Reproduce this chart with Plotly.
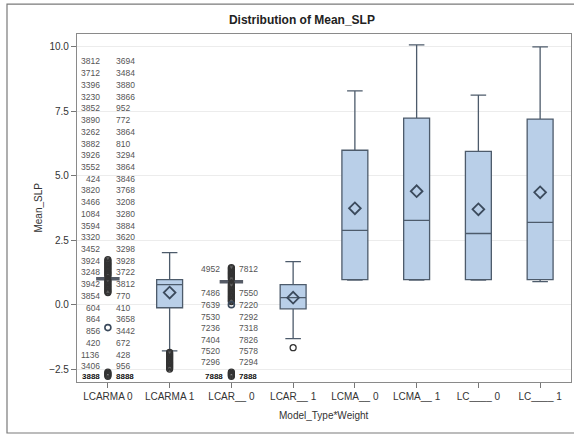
import plotly.graph_objects as go

# ---------------- data ----------------
categories = ["LCARMA 0", "LCARMA 1", "LCAR__ 0", "LCAR__ 1",
              "LCMA__ 0", "LCMA__ 1", "LC____ 0", "LC____ 1"]
q1 =     [1.01, -0.12, 0.89, -0.16, 0.97, 0.97, 0.97, 0.97]
median = [1.01,  0.78, 0.89,  0.27, 2.88, 3.27, 2.76, 3.19]
q3 =     [1.01,  0.97, 0.89,  0.78, 5.99, 7.24, 5.95, 7.20]
lower =  [1.01, -1.79, 0.89, -1.32, 0.95, 0.95, 0.95, 0.89]
upper =  [1.01,  2.02, 0.89,  1.67, 8.29, 10.08, 8.13, 10.00]
means =  [-0.89, 0.47, 0.00,  0.27, 3.74, 4.40, 3.70, 4.36]

outliers_lcarma0 = [1.75, 1.70, 1.65, 1.60, 1.55, 1.50, 1.45, 1.40, 1.35, 1.30,
                    1.25, 1.20, 1.15, 1.10, 0.95, 0.90, 0.85, 0.80, 0.75, 0.70,
                    0.65, 0.60, 0.55, 0.50, 0.47,
                    -2.62, -2.66, -2.70, -2.74, -2.78]
outliers_lcarma1 = [-1.85, -1.90, -1.95, -2.00, -2.05, -2.10, -2.15, -2.20,
                    -2.25, -2.30, -2.35, -2.40, -2.45, -2.50]
outliers_lcar0 = [1.44, 1.40, 1.35, 1.30, 1.25, 1.20, 1.15, 1.10, 1.05, 1.00,
                  0.80, 0.75, 0.70, 0.65, 0.60, 0.55, 0.50, 0.45, 0.40, 0.35,
                  0.30, 0.25, 0.20, 0.15, 0.12,
                  -2.62, -2.66, -2.70, -2.74, -2.78]
outliers_lcar1 = [-1.67]

# outlier ID labels (as stacked in the reference)
lcarma0_left = ["3812", "3712", "3396", "3230", "3852", "3890", "3262", "3882",
                "3926", "3552", "424", "3820", "3466", "1084", "3594", "3320",
                "3452", "3924", "3248", "3942", "3854", "604", "864", "856",
                "420", "1136", "3406"]
lcarma0_right = ["3694", "3484", "3880", "3866", "952", "772", "3864", "810",
                 "3294", "3864", "3846", "3768", "3208", "3280", "3884", "3620",
                 "3298", "3928", "3722", "3812", "770", "410", "3658", "3442",
                 "672", "428", "956"]
lcarma0_label_y = [9.44, 8.98, 8.53, 8.07, 7.62, 7.16, 6.71, 6.25, 5.80, 5.34,
                   4.89, 4.43, 3.98, 3.52, 3.07, 2.61, 2.16, 1.70, 1.25, 0.79,
                   0.34, -0.12, -0.57, -1.03, -1.48, -1.94, -2.39]
lcar0_left = ["4952", "7486", "7639", "7530", "7236", "7404", "7520", "7296"]
lcar0_right = ["7812", "7550", "7220", "7292", "7318", "7826", "7578", "7294"]
lcar0_label_y = [1.40, 0.47, 0.00, -0.47, -0.89, -1.36, -1.79, -2.22]
bottom_labels = {"LCARMA 0": ("3888", "8888"), "LCAR__ 0": ("7888", "7888")}
bottom_label_y = -2.78

# ---------------- figure ----------------
FONT = "Liberation Sans, Arial, sans-serif"
BOX_FILL = "#b9cfe8"
BOX_LINE = "#4d5b6b"

fig = go.Figure()

normal = [i for i in range(len(categories)) if q1[i] != q3[i]]
degen = [i for i in range(len(categories)) if q1[i] == q3[i]]

fig.add_trace(go.Box(
    x=[categories[i] for i in normal],
    q1=[q1[i] for i in normal], median=[median[i] for i in normal],
    q3=[q3[i] for i in normal], lowerfence=[lower[i] for i in normal],
    upperfence=[upper[i] for i in normal],
    boxpoints=False, width=0.42, whiskerwidth=0.6,
    fillcolor=BOX_FILL, line=dict(color=BOX_LINE, width=1.3),
    hoverinfo="skip", showlegend=False))

fig.add_trace(go.Box(
    x=[categories[i] for i in degen],
    q1=[q1[i] for i in degen], median=[median[i] for i in degen],
    q3=[q3[i] for i in degen], lowerfence=[lower[i] for i in degen],
    upperfence=[upper[i] for i in degen],
    boxpoints=False, width=0.38, whiskerwidth=0.6,
    fillcolor=BOX_FILL, line=dict(color="#555b66", width=3.5),
    hoverinfo="skip", showlegend=False))

outlier_sets = [("LCARMA 0", outliers_lcarma0), ("LCARMA 1", outliers_lcarma1),
                ("LCAR__ 0", outliers_lcar0), ("LCAR__ 1", outliers_lcar1)]
for cat, vals in outlier_sets:
    fig.add_trace(go.Scatter(
        x=[cat] * len(vals), y=vals, mode="markers",
        marker=dict(symbol="circle-open", size=6, color="#333333",
                    line=dict(width=1.3)),
        hoverinfo="skip", showlegend=False))

# mean markers: diamonds on real boxes, small open symbol on collapsed ones
fig.add_trace(go.Scatter(
    x=[categories[i] for i in normal], y=[means[i] for i in normal],
    mode="markers",
    marker=dict(symbol="diamond-open", size=9, color="#3b4a5c",
                line=dict(width=1.8)),
    hoverinfo="skip", showlegend=False))
fig.add_trace(go.Scatter(
    x=[categories[i] for i in degen], y=[means[i] for i in degen],
    mode="markers",
    marker=dict(symbol="circle-open", size=6, color="#3b4a5c",
                line=dict(width=1.6)),
    hoverinfo="skip", showlegend=False))

annotations = []
lab_font = dict(family=FONT, size=8.5, color="#555555")


def add_labels(cat, left, right, ys, lshift, rshift):
    for t, y in zip(left, ys):
        annotations.append(dict(x=cat, y=y, text=t, showarrow=False,
                                xanchor="right", yanchor="middle",
                                xshift=lshift, font=lab_font))
    for t, y in zip(right, ys):
        annotations.append(dict(x=cat, y=y, text=t, showarrow=False,
                                xanchor="left", yanchor="middle",
                                xshift=rshift, font=lab_font))


add_labels("LCARMA 0", lcarma0_left, lcarma0_right, lcarma0_label_y, -6, 6)
add_labels("LCAR__ 0", lcar0_left, lcar0_right, lcar0_label_y, -9, 6)
for cat, (lt, rt) in bottom_labels.items():
    annotations.append(dict(x=cat, y=bottom_label_y, text="<b>%s</b>" % lt,
                            showarrow=False, xanchor="right", yanchor="middle",
                            xshift=-6, font=dict(family=FONT, size=8, color="#111")))
    annotations.append(dict(x=cat, y=bottom_label_y, text="<b>%s</b>" % rt,
                            showarrow=False, xanchor="left", yanchor="middle",
                            xshift=6, font=dict(family=FONT, size=8, color="#111")))

# axis titles
annotations.append(dict(xref="paper", yref="paper", x=-0.095, y=0.5,
                        text="Mean_SLP", textangle=-90, showarrow=False,
                        font=dict(family=FONT, size=10, color="#333333")))
annotations.append(dict(xref="paper", yref="paper", x=0.5, y=-0.095,
                        text="Model_Type*Weight", showarrow=False,
                        yanchor="middle",
                        font=dict(family=FONT, size=10, color="#333333")))

fig.update_layout(
    width=574, height=435,
    margin=dict(l=77, r=3, t=34, b=53),
    paper_bgcolor="white", plot_bgcolor="white",
    title=dict(text="<b>Distribution of Mean_SLP</b>", x=0.526, xref="container",
               y=0.954, yref="container", xanchor="center", yanchor="middle",
               font=dict(family=FONT, size=12, color="#222222")),
    annotations=annotations,
    shapes=[dict(type="rect", xref="paper", yref="paper",
                 x0=-0.1417, x1=1.03, y0=-0.1466, y1=1.086,
                 line=dict(color="#7a7a7a", width=1.2), layer="below")],
    font=dict(family=FONT),
)

fig.update_xaxes(
    type="category", categoryorder="array", categoryarray=categories,
    range=[-0.5, 7.5], showgrid=False, ticks="outside", ticklen=5,
    tickcolor="#777777", tickfont=dict(family=FONT, size=10, color="#333333"),
    showline=True, linecolor="#8a8a8a", linewidth=1.2, mirror=True,
    zeroline=False)

fig.update_yaxes(
    range=[-3.0, 10.5], tickvals=[-2.5, 0, 2.5, 5, 7.5, 10],
    tickformat=".1f", showgrid=True, gridcolor="#ececec", gridwidth=1,
    ticks="outside", ticklen=5, tickcolor="#777777",
    tickfont=dict(family=FONT, size=10, color="#333333"),
    showline=True, linecolor="#8a8a8a", linewidth=1.2, mirror=True,
    zeroline=False)

fig.write_html("out.html")
